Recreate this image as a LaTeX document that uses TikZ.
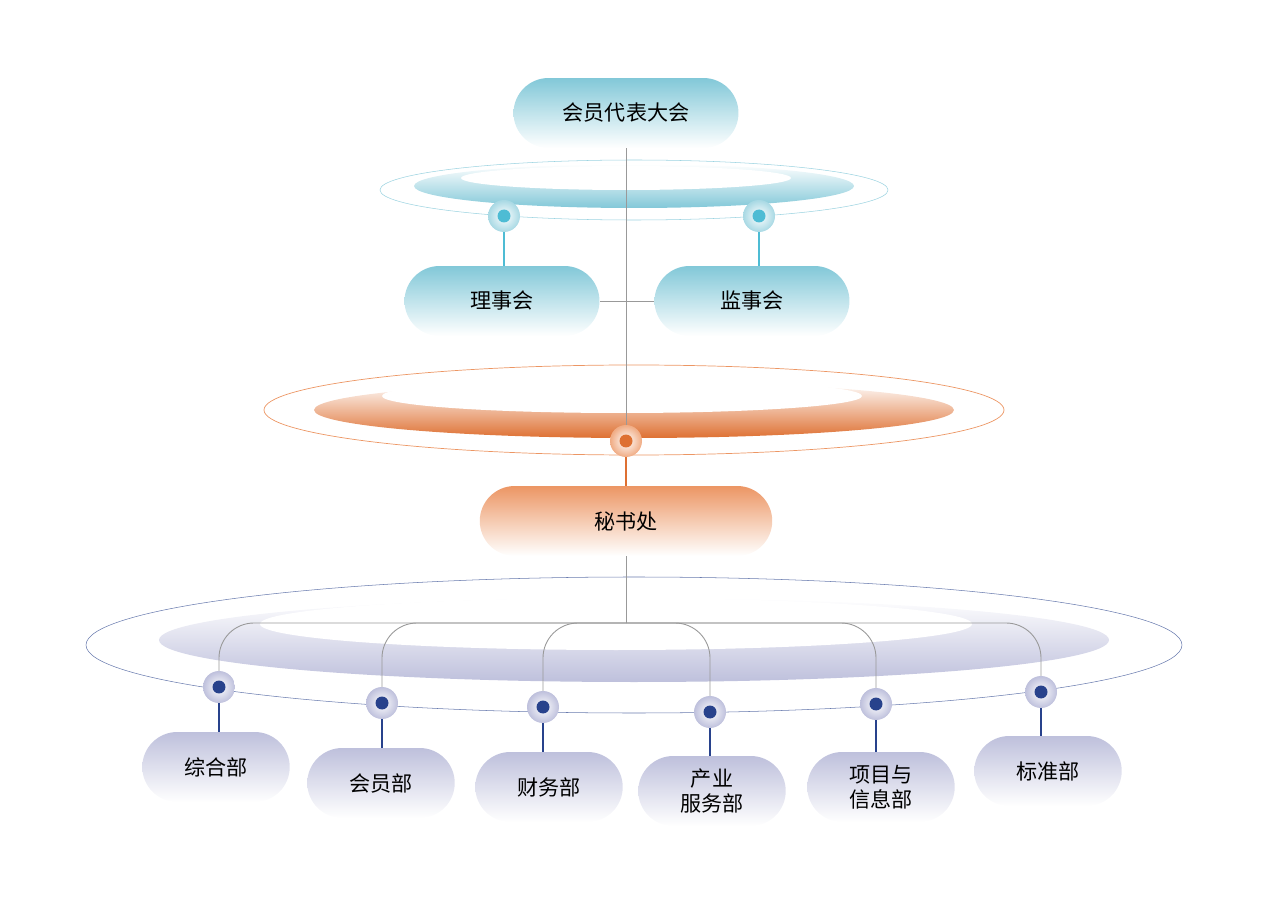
\documentclass[tikz,border=0pt]{standalone}
\usepackage{fontspec}
\setmainfont{Noto Sans CJK SC}
\usetikzlibrary{positioning}
\definecolor{cyanbox}{RGB}{130,200,216}
\definecolor{cyandot}{RGB}{78,188,212}
\definecolor{orbox}{RGB}{236,150,100}
\definecolor{ordot}{RGB}{222,112,50}
\definecolor{purbox}{RGB}{190,192,220}
\definecolor{purdot}{RGB}{40,66,140}
\tikzset{
    org/.style={rounded corners=0.7cm, minimum height=1.4cm, font=\large, text=black},
    topbox/.style={org, top color=cyanbox, bottom color=white, minimum width=4.5cm},
    midbox/.style={org, top color=cyanbox, bottom color=white, minimum width=3.9cm},
    secbox/.style={org, top color=orbox, bottom color=white, minimum width=5.85cm},
    depbox/.style={org, top color=purbox, bottom color=white, minimum width=2.95cm, align=center, font=\large\linespread{1.0}\selectfont},
    halo/.style={circle, minimum size=0.64cm, inner sep=0pt, inner color=white, outer color=#1},
    pin/.style={circle, fill=#1, minimum size=0.26cm, inner sep=0pt},
    link/.style={draw=gray!80, line width=0.5pt}
}
\begin{document}
\begin{tikzpicture}[x=0.02cm, y=-0.02cm]
    \useasboundingbox (0,0) rectangle (1269,922);
    % rings
    \draw[cyanbox!80, line width=0.3pt] (634,190) ellipse [x radius=254, y radius=30];
    \shade[top color=white, bottom color=cyanbox] (634,186) ellipse [x radius=220, y radius=22];
    \fill[white] (626,178) ellipse [x radius=165, y radius=12];
    \draw[orbox, line width=0.4pt] (634,410) ellipse [x radius=370, y radius=45];
    \shade[top color=white, bottom color=ordot] (634,410) ellipse [x radius=320, y radius=28];
    \fill[white] (622,396) ellipse [x radius=240, y radius=17];
    \draw[purdot!70, line width=0.3pt] (634,645) ellipse [x radius=548, y radius=68];
    \shade[top color=white, bottom color=purbox] (634,640) ellipse [x radius=475, y radius=42];
    \fill[white] (616,624) ellipse [x radius=356, y radius=26];
    % boxes
    \node[topbox] (congress) at (626,113) {会员代表大会};
    \node[midbox] (board) at (502,301) {理事会};
    \node[midbox] (super) at (752,301) {监事会};
    \node[secbox] (sec) at (626,521) {秘书处};
    \node[depbox] (d1) at (216,767) {综合部};
    \node[depbox] (d2) at (381,783) {会员部};
    \node[depbox] (d3) at (549,787) {财务部};
    \node[depbox] (d4) at (712,791) {产业\\服务部};
    \node[depbox] (d5) at (881,787) {项目与\\信息部};
    \node[depbox] (d6) at (1048,771) {标准部};
    % links
    \coordinate (spine) at (626,441);
    \draw[link] (congress.south) -- (spine);
    \draw[link] (board.east) -- (super.west);
    \coordinate (bus) at (626,623);
    \draw[link] (sec.south) -- (bus);
    \node[halo=cyanbox!70] (h1) at (504,216) {};
    \node[halo=cyanbox!70] (h2) at (759,216) {};
    \node[halo=orbox!80] (h3) at (626,441) {};
    \draw[cyandot, line width=1pt] (h1) -- (board.north -| h1);
    \draw[cyandot, line width=1pt] (h2) -- (super.north -| h2);
    \draw[ordot, line width=1pt] (h3) -- (sec.north);
    \node[pin=cyandot] at (h1) {};
    \node[pin=cyandot] at (h2) {};
    \node[pin=ordot] at (h3) {};
    \foreach \i/\x/\y in {1/219/687, 2/382/703, 3/543/707, 4/710/712, 5/876/704, 6/1041/692}{
        \draw[link, rounded corners=0.7cm] (bus) -| (\x,\y);
        \node[halo=purbox] (p\i) at (\x,\y) {};
        \draw[purdot, line width=1pt] (p\i) -- (d\i.north -| p\i);
        \node[pin=purdot] at (p\i) {};
    }
\end{tikzpicture}
\end{document}
